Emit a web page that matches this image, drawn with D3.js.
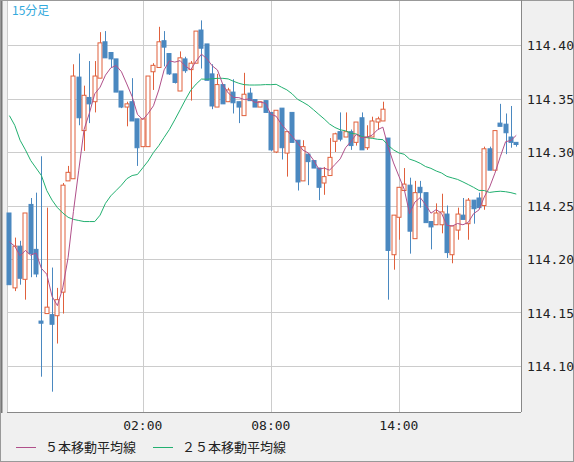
<!DOCTYPE html>
<html>
<head>
<meta charset="utf-8">
<script src="https://cdn.jsdelivr.net/npm/d3@7"></script>
<style>
  body { margin: 0; background: #f0f0f0; }
  svg { display: block; }
</style>
</head>
<body>
<div id="chart"></div>
<script>
// 15-minute candles, 19:45 -> 19:30 next day
const opens  = [114.243,114.173,114.212,114.181,114.251,114.209,114.142,114.149,114.148,114.147,114.169,114.273,114.275,114.370,114.320,114.351,114.347,114.369,114.403,114.393,114.387,114.357,114.342,114.347,114.331,114.305,114.305,114.375,114.379,114.404,114.392,114.373,114.357,114.387,114.377,114.383,114.414,114.401,114.373,114.342,114.363,114.347,114.356,114.347,114.334,114.355,114.349,114.342,114.348,114.337,114.300,114.341,114.299,114.337,114.311,114.273,114.298,114.292,114.285,114.271,114.278,114.310,114.319,114.314,114.319,114.309,114.332,114.304,114.314,114.328,114.329,114.313,114.204,114.239,114.264,114.269,114.219,114.267,114.262,114.235,114.232,114.232,114.242,114.204,114.227,114.241,114.233,114.255,114.257,114.250,114.303,114.283,114.327,114.326,114.314,114.309];
const highs  = [114.243,114.220,114.217,114.243,114.257,114.262,114.296,114.248,114.192,114.173,114.271,114.287,114.382,114.392,114.362,114.385,114.385,114.412,114.413,114.393,114.387,114.357,114.347,114.369,114.331,114.331,114.371,114.383,114.417,114.413,114.392,114.373,114.394,114.389,114.385,114.413,114.423,114.401,114.382,114.373,114.363,114.360,114.368,114.347,114.374,114.360,114.349,114.347,114.348,114.337,114.339,114.341,114.319,114.337,114.311,114.311,114.298,114.292,114.285,114.286,114.313,114.318,114.337,114.337,114.321,114.328,114.337,114.325,114.333,114.333,114.347,114.313,114.241,114.267,114.285,114.276,114.273,114.273,114.262,114.235,114.252,114.261,114.250,114.231,114.248,114.257,114.257,114.255,114.262,114.305,114.305,114.320,114.345,114.336,114.343,114.309];
const lows   = [114.176,114.170,114.176,114.162,114.183,114.183,114.090,114.149,114.076,114.121,114.149,114.273,114.275,114.325,114.301,114.327,114.337,114.369,114.388,114.379,114.356,114.341,114.324,114.329,114.287,114.305,114.305,114.358,114.379,114.380,114.372,114.364,114.357,114.374,114.348,114.383,114.378,114.367,114.340,114.342,114.345,114.347,114.336,114.327,114.334,114.348,114.342,114.342,114.337,114.301,114.299,114.293,114.277,114.309,114.264,114.273,114.269,114.285,114.255,114.260,114.278,114.300,114.310,114.314,114.302,114.306,114.302,114.302,114.314,114.321,114.329,114.162,114.190,114.218,114.264,114.205,114.219,114.248,114.234,114.209,114.232,114.224,114.201,114.196,114.218,114.237,114.218,114.233,114.248,114.246,114.283,114.283,114.324,114.298,114.304,114.305];
const closes = [114.176,114.212,114.182,114.243,114.205,114.186,114.140,114.155,114.139,114.162,114.269,114.281,114.371,114.332,114.353,114.345,114.371,114.402,114.388,114.387,114.356,114.342,114.345,114.329,114.304,114.331,114.371,114.381,114.403,114.398,114.373,114.365,114.388,114.376,114.383,114.413,114.397,114.367,114.343,114.363,114.345,114.358,114.346,114.342,114.354,114.348,114.342,114.347,114.337,114.302,114.339,114.304,114.319,114.309,114.272,114.305,114.291,114.285,114.267,114.277,114.295,114.317,114.312,114.319,114.306,114.328,114.302,114.314,114.329,114.331,114.340,114.208,114.241,114.267,114.270,114.226,114.262,114.262,114.234,114.230,114.243,114.244,114.206,114.231,114.242,114.237,114.255,114.247,114.248,114.303,114.283,114.320,114.324,114.318,114.309,114.307];

const ma5Lead  = [114.216,114.212,114.203,114.208];
const ma25Lead = [114.334,114.325,114.311,114.302,114.292,114.285,114.278,114.264,114.255,114.248,114.243,114.239,114.237,114.236,114.235,114.235,114.235,114.241,114.252,114.259,114.264,114.269,114.275,114.278];

const yTicks = [114.10, 114.15, 114.20, 114.25, 114.30, 114.35, 114.40];
const xTickLabels = ["02:00", "08:00", "14:00"];

const width = 574, height = 462;
const plot = {left: 7, right: 521, top: 1, bottom: 412};

const start = new Date(2020, 0, 1, 19, 45);
const times = closes.map((c, i) => new Date(+start + i * 15 * 60000));
const fmt = d3.timeFormat("%H:%M");

const x = d3.scaleBand()
    .domain(d3.range(closes.length))
    .range([plot.left, plot.left + closes.length * 5.33])
    .paddingInner(0.3).paddingOuter(0.1);
const y = d3.scaleLinear()
    .domain([114.10, 114.40])
    .range([366, 45]);

function movingAvg(n, lead) {
    return closes.map((c, i) => i < n - 1 ? lead[i] : d3.mean(closes.slice(i - n + 1, i + 1)));
}
const ma5 = movingAvg(5, ma5Lead);
const ma25 = movingAvg(25, ma25Lead);

const svg = d3.select("#chart").append("svg")
    .attr("width", width).attr("height", height);

svg.append("rect").attr("x", 0.5).attr("y", 0.5)
    .attr("width", width - 1).attr("height", height - 1)
    .attr("fill", "#f0f0f0").attr("stroke", "#999");

svg.append("rect")
    .attr("x", plot.left).attr("y", plot.top)
    .attr("width", plot.right - plot.left).attr("height", plot.bottom - plot.top)
    .attr("fill", "#fff");

svg.append("rect").attr("x", 1).attr("y", 1).attr("width", 1.5).attr("height", plot.bottom)
    .attr("fill", "#777");

const cx = i => x(i) + x.bandwidth() / 2;

// grid
svg.append("g").selectAll("line").data(yTicks).enter().append("line")
    .attr("x1", plot.left).attr("x2", plot.right)
    .attr("y1", d => Math.round(y(d)) + 0.5).attr("y2", d => Math.round(y(d)) + 0.5)
    .attr("stroke", "#cccccc");
const xTickIdx = xTickLabels.map(l => times.findIndex(t => fmt(t) === l));
svg.append("g").selectAll("line").data(xTickIdx).enter().append("line")
    .attr("x1", d => Math.round(cx(d)) + 0.5).attr("x2", d => Math.round(cx(d)) + 0.5)
    .attr("y1", plot.top).attr("y2", plot.bottom)
    .attr("stroke", "#cccccc");
svg.append("line").attr("x1", plot.left + 0.5).attr("x2", plot.left + 0.5)
    .attr("y1", plot.top).attr("y2", plot.bottom).attr("stroke", "#cccccc");
svg.append("line").attr("x1", plot.left).attr("x2", plot.right)
    .attr("y1", plot.bottom + 0.5).attr("y2", plot.bottom + 0.5).attr("stroke", "#888");
svg.append("line").attr("x1", plot.right + 0.5).attr("x2", plot.right + 0.5)
    .attr("y1", 0).attr("y2", plot.bottom).attr("stroke", "#888");

const UP = "#e0603c", DOWN = "#4a88c0";

const g = svg.append("g").selectAll("g").data(closes).enter().append("g");
g.append("line")
    .attr("x1", (d, i) => Math.round(cx(i)) + 0.5).attr("x2", (d, i) => Math.round(cx(i)) + 0.5)
    .attr("y1", (d, i) => y(highs[i])).attr("y2", (d, i) => y(lows[i]))
    .attr("stroke", (d, i) => closes[i] >= opens[i] ? UP : DOWN);
g.append("rect")
    .attr("x", (d, i) => Math.round(cx(i)) - 2)
    .attr("y", (d, i) => y(Math.max(opens[i], closes[i])))
    .attr("width", 4)
    .attr("height", (d, i) => Math.max(1, Math.abs(y(opens[i]) - y(closes[i]))))
    .attr("fill", (d, i) => closes[i] >= opens[i] ? "#fff" : DOWN)
    .attr("stroke", (d, i) => closes[i] >= opens[i] ? UP : DOWN)
    .attr("stroke-width", 1);

const line = d3.line().x((d, i) => cx(i)).y(d => y(d));
svg.append("path").datum(ma25).attr("d", line)
    .attr("fill", "none").attr("stroke", "#22b070").attr("stroke-width", 1);
svg.append("path").datum(ma5).attr("d", line)
    .attr("fill", "none").attr("stroke", "#b0508a").attr("stroke-width", 1);

// labels
svg.append("text").attr("x", 12).attr("y", 15).text("15分足")
    .attr("font-family", "Noto Sans CJK JP").attr("font-size", 12).attr("fill", "#33aadd");

svg.append("g").selectAll("text").data(yTicks).enter().append("text")
    .attr("x", 527).attr("y", d => y(d) + 5)
    .text(d => d.toFixed(2))
    .attr("font-family", "DejaVu Sans Mono").attr("font-size", 13).attr("fill", "#222");

svg.append("g").selectAll("text").data(xTickIdx).enter().append("text")
    .attr("x", d => cx(d)).attr("y", 430).attr("text-anchor", "middle")
    .text(d => fmt(times[d]))
    .attr("font-family", "DejaVu Sans Mono").attr("font-size", 13).attr("fill", "#222");

const legend = [["５本移動平均線", "#b0508a", 16], ["２５本移動平均線", "#22b070", 153]];
legend.forEach(([label, color, lx]) => {
    svg.append("line").attr("x1", lx).attr("x2", lx + 20).attr("y1", 447.5).attr("y2", 447.5)
        .attr("stroke", color);
    svg.append("text").attr("x", lx + 29).attr("y", 452).text(label)
        .attr("font-family", "Noto Sans CJK JP").attr("font-size", 13).attr("fill", "#222");
});
</script>
</body>
</html>
